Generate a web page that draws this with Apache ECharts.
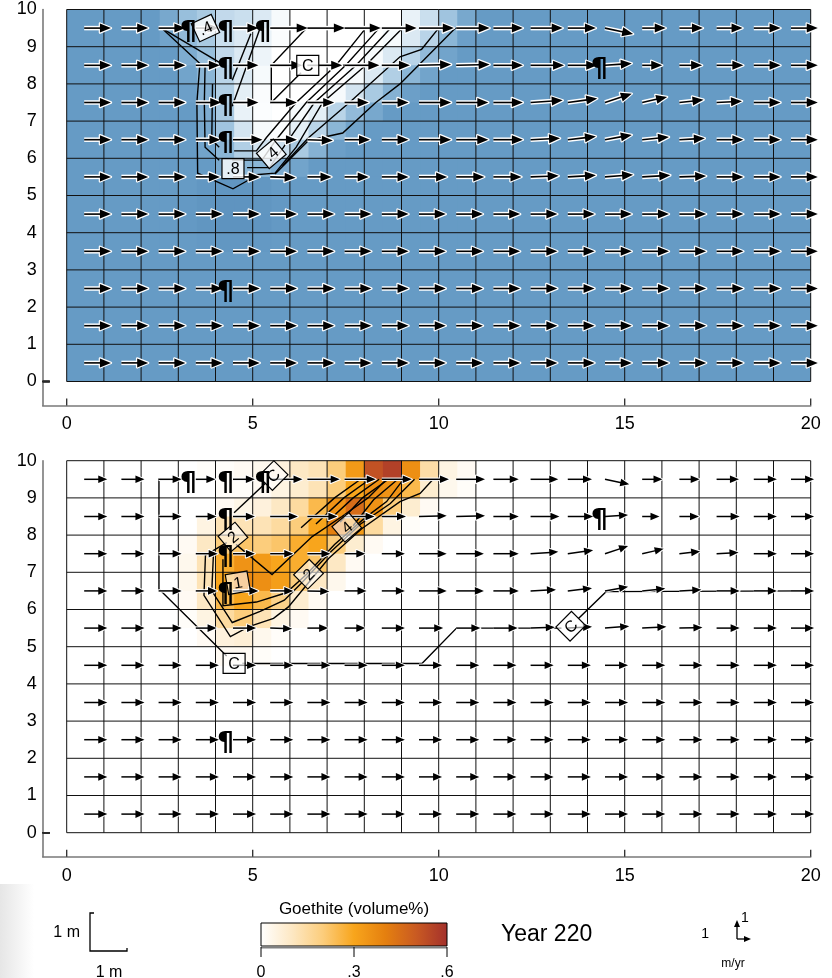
<!DOCTYPE html>
<html><head><meta charset="utf-8">
<script src="https://cdn.jsdelivr.net/npm/echarts@6/dist/echarts.min.js"></script>
<style>html,body{margin:0;padding:0;background:#fff}#c{width:832px;height:978px}</style>
</head><body><div id="c"></div>
<script>
// ---------------- DATA ----------------
const xTicks = [0, 5, 10, 15, 20];
const yTicks = [0, 1, 2, 3, 4, 5, 6, 7, 8, 9, 10];
const gridXs = [0,1,2,3,4,5,6,7,8,9,10,11,12,13,14,15,16,17,18,19,20];
const gridYs = [0,1,2,3,4,5,6,7,8,9,10];

// velocity arrows: tail positions and components (m/yr-like units)
const arrowX = [0.47,1.47,2.47,3.47,4.47,5.47,6.47,7.47,8.47,9.47,10.47,11.47,12.47,13.47,14.47,15.47,16.47,17.47,18.47,19.47];
const arrowY = [9.5, 8.5, 7.5, 6.5, 5.5, 4.5, 3.5, 2.5, 1.5, 0.5];
const flowU = [
 [1,1,1,0.85,0.95,1.4,1.4,1.35,1.3,1.3,1.25,1.1,1.2,1.05,1.05,0.88,0.88,0.97,1,1],
 [1,1,1,0.9,0.95,1.2,1.3,1.3,1.05,1.2,1.25,1.1,1.25,1.1,1.0,0.75,0.85,1,1,1],
 [1,1,1,0.95,0.95,1.0,1.0,0.9,1.0,1.2,1.2,1.1,1.2,1.1,1.0,0.93,0.9,0.95,1,1],
 [1,1,1,0.92,1.1,1.0,0.95,0.95,1.0,1.2,1.2,1.1,1.1,1.05,1.0,1.0,0.95,1,1,1],
 [1,1,1,0.9,1.0,0.95,0.9,0.9,1.0,1.05,1.05,1.05,1.05,1.05,1.05,1.05,1.0,1,1,1],
 [1,1,1,1,1,1,1,1,1,1,1,1,1,1,1,1,1,1,1,1],
 [1,1,1,1,1,1,1,1,1,1,1,1,1,1,1,1,1,1,1,1],
 [1,1,1,1,1,1,1,1,1,1,1,1,1,1,1,1,1,1,1,1],
 [1,1,1,1,1,1,1,1,1,1,1,1,1,1,1,1,1,1,1,1],
 [1,1,1,1,1,1,1,1,1,1,1,1,1,1,1,1,1,1,1,1]
];
const flowV = [
 [0,0,0,0,0,0,0,0,0,0,0,0,0,0,-0.22,0,0,0,0,0],
 [0,0,0,0,0,0,0,0,0,0.03,0.03,0,0,0,0.07,0,0,0,0,0],
 [0,0,0,0,0,0,0,0,0,0,0,0,0.08,0.15,0.33,0.21,0.1,0.05,0,0],
 [0,0,0,0,0,0,-0.03,0,0,0,0,0,0.05,0.12,0.18,0.1,0.05,0,0,0],
 [0,0,0,0,0,-0.03,0,0,0,0,0,0,0.04,0.06,0.08,0.06,0.03,0,0,0],
 [0,0,0,0,0,0,0,0,0,0,0,0,0,0,0,0,0,0,0,0],
 [0,0,0,0,0,0,0,0,0,0,0,0,0,0,0,0,0,0,0,0],
 [0,0,0,0,0,0,0,0,0,0,0,0,0,0,0,0,0,0,0,0],
 [0,0,0,0,0,0,0,0,0,0,0,0,0,0,0,0,0,0,0,0],
 [0,0,0,0,0,0,0,0,0,0,0,0,0,0,0,0,0,0,0,0]
];

// well markers
const wells = [[3.2,9.5],[4.2,9.5],[5.2,9.5],[4.2,8.5],[4.2,7.5],[4.2,6.5],[4.2,2.5],[14.25,8.5]];

// upper panel shading (0 = white, 1 = background blue)
const topShadeX = [2.25,2.75,3.25,3.75,4.25,4.75,5.25,5.75,6.25,6.75,7.25,7.75,8.25,8.75,9.25,9.75,10.25,10.75];
const topShadeY = [9.75,9.25,8.75,8.25,7.75,7.25,6.75,6.25,5.75,5.25,4.75,4.25,3.75];
const topShade = [
 [1.0,0.85,0.6,0.5,0.35,0.3,0.2,0.05,0,0,0,0,0,0,0.12,0.3,0.55,0.85],
 [1.0,0.9,0.65,0.5,0.3,0.2,0.12,0.03,0,0,0,0,0,0.05,0.2,0.4,0.7,0.95],
 [1.0,1.0,0.8,0.6,0.35,0.2,0.1,0,0,0,0,0,0.05,0.2,0.4,0.65,0.9,1.0],
 [1.0,1.0,0.9,0.7,0.4,0.2,0.05,0,0,0,0,0.05,0.2,0.45,0.7,0.9,1.0,1.0],
 [1.0,1.0,0.95,0.75,0.45,0.15,0.03,0,0,0,0.05,0.25,0.5,0.75,0.95,1.0,1.0,1.0],
 [1.0,1.0,1.0,0.8,0.5,0.12,0.02,0,0.05,0.15,0.4,0.65,0.85,1.0,1.0,1.0,1.0,1.0],
 [1.0,1.0,1.0,0.85,0.55,0.25,0.05,0.02,0.15,0.4,0.7,0.9,1.0,1.0,1.0,1.0,1.0,1.0],
 [1.0,1.0,1.0,0.9,0.7,0.45,0.25,0.3,0.5,0.75,0.95,1.0,1.0,1.0,1.0,1.0,1.0,1.0],
 [1.0,1.0,1.0,1.0,0.85,0.7,0.7,0.8,0.9,1.0,1.0,1.0,1.0,1.0,1.0,1.0,1.0,1.0],
 [1.0,1.0,1.0,1.04,1.05,1.05,1.04,1.0,1.0,1.0,1.0,1.0,1.0,1.0,1.0,1.0,1.0,1.0],
 [1.0,1.0,1.02,1.05,1.07,1.07,1.05,1.02,1.0,1.0,1.0,1.0,1.0,1.0,1.0,1.0,1.0,1.0],
 [1.0,1.0,1.02,1.05,1.08,1.08,1.06,1.02,1.0,1.0,1.0,1.0,1.0,1.0,1.0,1.0,1.0,1.0],
 [1.0,1.0,1.0,1.02,1.04,1.04,1.02,1.0,1.0,1.0,1.0,1.0,1.0,1.0,1.0,1.0,1.0,1.0]
];

// lower panel goethite (volume %)
const goeX = [3.25,3.75,4.25,4.75,5.25,5.75,6.25,6.75,7.25,7.75,8.25,8.75,9.25,9.75,10.25,10.75];
const goeY = [9.75,9.25,8.75,8.25,7.75,7.25,6.75,6.25,5.75,5.25,4.75];
const goethite = [
 [0,0.01,0.01,0.02,0.03,0.06,0.1,0.12,0.2,0.33,0.52,0.56,0.36,0.14,0.05,0.02],
 [0,0,0.01,0.01,0.02,0.05,0.08,0.12,0.2,0.3,0.36,0.35,0.25,0.08,0.03,0.01],
 [0,0,0.02,0.04,0.06,0.1,0.15,0.25,0.35,0.45,0.35,0.2,0.08,0.02,0,0],
 [0,0.05,0.12,0.12,0.12,0.15,0.2,0.3,0.4,0.33,0.15,0.05,0.01,0,0,0],
 [0.02,0.1,0.2,0.22,0.2,0.22,0.28,0.3,0.2,0.08,0.02,0,0,0,0,0],
 [0.03,0.12,0.28,0.35,0.33,0.3,0.28,0.22,0.1,0.02,0,0,0,0,0,0],
 [0.03,0.12,0.3,0.38,0.36,0.32,0.2,0.1,0.03,0,0,0,0,0,0,0],
 [0.02,0.1,0.25,0.3,0.25,0.18,0.08,0.02,0,0,0,0,0,0,0,0],
 [0.01,0.05,0.15,0.2,0.12,0.05,0.02,0,0,0,0,0,0,0,0,0],
 [0,0.02,0.06,0.07,0.03,0.01,0,0,0,0,0,0,0,0,0,0],
 [0,0,0.02,0.02,0.01,0,0,0,0,0,0,0,0,0,0,0]
];

// contour polylines, upper panel
const contoursTop = [
 [[2.55,9.5],[3.58,8.55],[3.5,7.5],[3.52,5.6],[4.47,5.18],[4.95,5.45]],
 [[2.55,9.5],[4.15,8.55]],
 [[3.72,8.5],[3.7,7.5],[3.72,6.3],[4.1,5.95]],
 [[3.92,8.0],[3.9,6.5],[4.1,6.3]],
 [[4.5,6.2],[5.1,6.2],[5.37,6.56],[6.17,7.5],[7.24,8.5],[8.04,9.5]],
 [[4.45,5.95],[5.25,5.95],[5.63,6.5],[6.44,7.5],[7.5,8.5],[8.4,9.5]],
 [[4.85,5.75],[5.45,5.75],[5.9,6.4],[6.66,7.5],[7.78,8.5],[8.71,9.5]],
 [[5.0,5.55],[5.6,5.6],[6.17,6.3],[6.88,7.5],[8.04,8.5],[9.03,9.5]],
 [[5.8,5.8],[6.5,6.55],[7.6,7.5],[8.96,8.73],[9.54,8.93],[10.0,9.5]],
 [[5.6,5.58],[6.5,6.48],[7.42,6.68],[8.31,7.5],[8.96,8.0],[10.45,9.5]],
 [[4.45,7.4],[5.2,9.5]],
 [[4.45,8.1],[4.95,9.35]],
 [[6.45,9.5],[5.5,8.5],[5.5,7.5],[6.3,8.3]],
 [[6.75,8.5],[7.6,8.5]]
];
const labelsTop = [[3.73,9.5,25],[6.48,8.5,0],[5.5,6.12,40],[4.47,5.72,0]];
const labelTextTop = ['.4', 'C', '.4', '.8'];

// contour polylines, lower panel
const contoursBot = [
 [[3.2,9.5],[2.48,9.5],[2.48,6.55],[4.3,4.75]],
 [[4.72,4.55],[9.55,4.55],[10.48,5.5],[13.3,5.5]],
 [[13.75,5.75],[14.5,6.48],[20,6.5]],
 [[4.5,8.6],[5.35,9.4]],
 [[4.3,7.8],[3.73,7.46],[3.69,6.38],[4.4,5.27],[4.9,5.54],[5.56,5.76],[5.96,6.07],[6.41,6.61],[7.04,7.37],[7.93,8.17],[8.96,8.9],[9.5,9.12],[9.85,9.5]],
 [[3.95,7.6],[3.9,6.5],[4.45,5.65],[5.2,5.95],[5.85,6.25],[6.3,6.7],[7.1,7.55],[7.9,8.3],[8.7,8.85],[9.35,9.5]],
 [[4.2,7.35],[4.2,6.1],[5.1,6.2],[5.9,6.45],[6.45,6.95],[7.2,7.75],[8.0,8.45],[8.6,8.9],[9.05,9.5]],
 [[4.55,7.75],[5.52,6.94],[6.6,7.96],[7.4,8.5],[8.1,9.0],[8.6,9.5]],
 [[6.3,8.2],[7.2,9.0],[7.9,9.5]],
 [[6.7,8.3],[7.45,9.0],[8.15,9.5]],
 [[7.0,8.35],[7.7,9.0],[8.4,9.5]],
 [[7.35,8.35],[7.95,9.0],[8.65,9.5]],
 [[7.7,8.25],[8.25,8.95],[8.9,9.5]]
];
const labelsBot = [[5.55,9.6,45],[4.47,7.95,40],[4.6,6.72,10],[6.5,6.95,45],[7.53,8.21,40],[4.5,4.55,0],[13.55,5.55,45]];
const labelTextBot = ['C', '2', '1', '2', '4', 'C', 'C'];

// colour bar
const cbarTicks = [0, 0.3, 0.6];
const cbarTickText = ['0', '.3', '.6'];

// ---------------- LAYOUT ----------------
const U = 37.2, PX0 = 66.7, PW = 20 * U, PH = 10 * U, AX = 24;
const TOP1 = 9.5, TOP2 = 460.7;
const FONT = "'Liberation Sans',Arial,sans-serif";
const BLUE = '#669bc5';
const AMIN = -AX / U;

function build3(xs, ys, rows) {
  const out = [];
  rows.forEach((r, i) => r.forEach((v, j) => out.push([xs[j], ys[i], v])));
  return out;
}
function buildArrows() {
  const out = [];
  arrowY.forEach((y, i) => arrowX.forEach((x, j) => out.push([x, y, flowU[i][j], flowV[i][j]])));
  return out;
}
const cell = 0.5;
function heatRender(params, api) {
  const x = api.value(0), y = api.value(1);
  const a = api.coord([x - cell / 2, y + cell / 2]);
  const b = api.coord([x + cell / 2, y - cell / 2]);
  const c = api.visual('color');
  return { type: 'rect', shape: { x: a[0], y: a[1], width: b[0] - a[0] + 0.6, height: b[1] - a[1] + 0.6 },
    style: { fill: c } };
}
function gridRender(params, api) {
  const o = api.value(0), v = api.value(1);
  let p, q;
  if (o === 0) { p = api.coord([v, 0]); q = api.coord([v, 10]); }
  else { p = api.coord([0, v]); q = api.coord([20, v]); }
  return { type: 'line', shape: { x1: p[0], y1: p[1], x2: q[0], y2: q[1] },
    style: { stroke: '#111', lineWidth: 1 } };
}
const gridData = gridXs.map(v => [0, v]).concat(gridYs.map(v => [1, v]));

// inward axis ticks, drawn on the plot grid and shifted out to the offset axis line
function tickRender(params, api) {
  const o = api.value(0), v = api.value(1);
  if (o === 0) {
    const p = api.coord([v, 0]);
    const y0 = p[1] + AX;
    return { type: 'line', shape: { x1: p[0], y1: y0, x2: p[0], y2: y0 - 7 }, style: { stroke: '#2a2a2a', lineWidth: 1.3 } };
  }
  const p = api.coord([0, v]);
  const x0 = p[0] - AX;
  return { type: 'line', shape: { x1: x0, y1: p[1], x2: x0 + 7, y2: p[1] }, style: { stroke: '#2a2a2a', lineWidth: 1.3 } };
}
const tickData = xTicks.map(v => [0, v, 0]).concat(yTicks.map(v => [1, 0, v]));

function arrowRender(scale, st) {
  return function (params, api) {
    const x = api.value(0), y = api.value(1), u = api.value(2), v = api.value(3);
    const p0 = api.coord([x, y]);
    const p1 = api.coord([x + u * scale, y + v * scale]);
    const dx = p1[0] - p0[0], dy = p1[1] - p0[1];
    const L = Math.hypot(dx, dy) || 1;
    const ux = dx / L, uy = dy / L;
    const bx = p1[0] - ux * st.hl, by = p1[1] - uy * st.hl;
    const le = [bx - uy * st.hw, by + ux * st.hw], ri = [bx + uy * st.hw, by - ux * st.hw];
    return { type: 'group', children: [
      { type: 'line', shape: { x1: p0[0], y1: p0[1], x2: bx, y2: by }, style: { stroke: '#fff', lineWidth: st.halo, lineCap: 'butt' } },
      { type: 'polygon', shape: { points: [p1, le, ri] }, style: { fill: '#fff', stroke: '#fff', lineWidth: st.headHalo, lineJoin: 'round' } },
      { type: 'line', shape: { x1: p0[0], y1: p0[1], x2: bx + ux, y2: by + uy }, style: { stroke: '#000', lineWidth: st.w } },
      { type: 'polygon', shape: { points: [p1, le, ri] }, style: { fill: '#000' } }
    ] };
  };
}
function labelRender(texts, fill) {
  return function (params, api) {
    const p = api.coord([api.value(0), api.value(1)]);
    const rot = api.value(2) * Math.PI / 180;
    const t = texts[params.dataIndex];
    return { type: 'group', x: p[0], y: p[1], rotation: rot, children: [
      { type: 'rect', shape: { x: -11, y: -10, width: 22, height: 20 }, style: { fill: fill, stroke: '#000', lineWidth: 1.2 } },
      { type: 'text', style: { text: t, x: 0, y: 1, align: 'center', verticalAlign: 'middle', font: '16px ' + FONT, fill: '#000' } }
    ] };
  };
}
function wellRender(params, api) {
  const p = api.coord([api.value(0), api.value(1)]);
  return { type: 'text', style: { text: '\u00B6', x: p[0] - 6, y: p[1] - 9, align: 'left', verticalAlign: 'top',
    font: 'bold 27px DejaVu Sans', fill: '#000' } };
}

const lineCol = { color: '#7a7a7a', width: 1.6 };
function plotAxes(gi) {
  return {
    x: { gridIndex: gi, type: 'value', min: 0, max: 20, interval: 5, position: 'bottom', offset: AX,
      axisLine: { show: false, onZero: false }, axisTick: { show: false },
      axisLabel: { show: true, fontSize: 18, color: '#000', margin: 10, fontFamily: 'Liberation Sans' },
      splitLine: { show: false } },
    y: { gridIndex: gi, type: 'value', min: 0, max: 10, interval: 1, position: 'left', offset: AX,
      axisLine: { show: false, onZero: false }, axisTick: { show: false },
      axisLabel: { show: true, fontSize: 18, color: '#000', margin: 6, fontFamily: 'Liberation Sans' },
      splitLine: { show: false } }
  };
}
function frameAxes(gi) {
  return {
    x: { gridIndex: gi, type: 'value', min: AMIN, max: 20, position: 'bottom',
      axisLine: { show: true, onZero: false, lineStyle: lineCol }, axisTick: { show: false }, axisLabel: { show: false }, splitLine: { show: false } },
    y: { gridIndex: gi, type: 'value', min: AMIN, max: 10, position: 'left',
      axisLine: { show: true, onZero: false, lineStyle: lineCol }, axisTick: { show: false }, axisLabel: { show: false }, splitLine: { show: false } }
  };
}
const a0 = plotAxes(0), a1 = plotAxes(1), a2 = frameAxes(2), a3 = frameAxes(3);

const series = [
  { type: 'custom', name: 'shadeTop', xAxisIndex: 0, yAxisIndex: 0, renderItem: heatRender,
    dimensions: ['x', 'y', 'v'], encode: { x: 0, y: 1 }, data: build3(topShadeX, topShadeY, topShade), z: 1, silent: true },
  { type: 'custom', name: 'goethite', xAxisIndex: 1, yAxisIndex: 1, renderItem: heatRender,
    dimensions: ['x', 'y', 'v'], encode: { x: 0, y: 1 }, data: build3(goeX, goeY, goethite), z: 1, silent: true },
  { type: 'custom', xAxisIndex: 0, yAxisIndex: 0, renderItem: gridRender, data: gridData, encode: { x: 1, y: 1 }, z: 2, silent: true },
  { type: 'custom', xAxisIndex: 1, yAxisIndex: 1, renderItem: gridRender, data: gridData, encode: { x: 1, y: 1 }, z: 2, silent: true },
  { type: 'lines', coordinateSystem: 'cartesian2d', xAxisIndex: 0, yAxisIndex: 0, polyline: true,
    data: contoursTop.map(c => ({ coords: c })), lineStyle: { color: '#000', width: 1.4, opacity: 1 }, z: 3, silent: true },
  { type: 'lines', coordinateSystem: 'cartesian2d', xAxisIndex: 1, yAxisIndex: 1, polyline: true,
    data: contoursBot.map(c => ({ coords: c })), lineStyle: { color: '#000', width: 1.4, opacity: 1 }, z: 3, silent: true },
  { type: 'custom', xAxisIndex: 0, yAxisIndex: 0, renderItem: arrowRender(0.72, { hl: 11, hw: 4.5, w: 1.6, halo: 4.5, headHalo: 2.5 }),
    dimensions: ['x', 'y', 'u', 'v'], encode: { x: 0, y: 1 }, data: buildArrows(), z: 4, silent: true },
  { type: 'custom', xAxisIndex: 1, yAxisIndex: 1, renderItem: arrowRender(0.62, { hl: 9, hw: 3.8, w: 1.5, halo: 3.5, headHalo: 2 }),
    dimensions: ['x', 'y', 'u', 'v'], encode: { x: 0, y: 1 }, data: buildArrows(), z: 4, silent: true },
  { type: 'custom', xAxisIndex: 0, yAxisIndex: 0, renderItem: labelRender(labelTextTop, 'rgba(255,255,255,0.8)'),
    dimensions: ['x', 'y', 'r'], encode: { x: 0, y: 1 }, data: labelsTop, z: 5, silent: true },
  { type: 'custom', xAxisIndex: 1, yAxisIndex: 1, renderItem: labelRender(labelTextBot, 'rgba(255,255,255,0.6)'),
    dimensions: ['x', 'y', 'r'], encode: { x: 0, y: 1 }, data: labelsBot, z: 5, silent: true },
  { type: 'custom', xAxisIndex: 0, yAxisIndex: 0, renderItem: wellRender, encode: { x: 0, y: 1 }, data: wells, z: 6, silent: true },
  { type: 'custom', xAxisIndex: 1, yAxisIndex: 1, renderItem: wellRender, encode: { x: 0, y: 1 }, data: wells, z: 6, silent: true },
  { type: 'custom', xAxisIndex: 0, yAxisIndex: 0, renderItem: tickRender, data: tickData, encode: { x: 1, y: 2 }, z: 7, silent: true, clip: false },
  { type: 'custom', xAxisIndex: 1, yAxisIndex: 1, renderItem: tickRender, data: tickData, encode: { x: 1, y: 2 }, z: 7, silent: true, clip: false }
];

const goeColors = ['#ffffff', '#fde8c4', '#fccd7c', '#f8a51c', '#e5800f', '#c95a22', '#a3302c'];
const blueColors = ['#ffffff', '#dbe9f3', '#b9d4e8', '#98bfdc', '#7eacd0', BLUE, '#5288b6'];

// legend graphics
const cbX0 = 261, cbX1 = 447, cbY = 923, cbH = 23;
const graphic = [
  { type: 'rect', shape: { x: 0, y: 884, width: 34, height: 94 }, z: -1,
    style: { fill: new echarts.graphic.LinearGradient(0, 0, 1, 0, [{ offset: 0, color: '#e6e6e6' }, { offset: 1, color: '#ffffff' }]) } },
  { type: 'polyline', shape: { points: [[94, 913], [90, 913], [90, 951], [127, 951], [127, 948]] }, style: { stroke: '#000', lineWidth: 1.3, fill: null } },
  { type: 'text', style: { text: '1 m', x: 80, y: 933, align: 'right', verticalAlign: 'middle', font: '16px ' + FONT, fill: '#000' } },
  { type: 'text', style: { text: '1 m', x: 109, y: 973, align: 'center', verticalAlign: 'middle', font: '16px ' + FONT, fill: '#000' } },
  { type: 'text', style: { text: 'Goethite (volume%)', x: (cbX0 + cbX1) / 2, y: 909, align: 'center', verticalAlign: 'middle', font: '17px ' + FONT, fill: '#000' } },
  { type: 'rect', shape: { x: cbX0, y: cbY, width: cbX1 - cbX0, height: cbH },
    style: { stroke: '#000', lineWidth: 1, fill: new echarts.graphic.LinearGradient(0, 0, 1, 0,
      goeColors.map((c, i) => ({ offset: i / (goeColors.length - 1), color: c }))) } },
  { type: 'line', shape: { x1: cbX0, y1: cbY + cbH + 1.5, x2: cbX1, y2: cbY + cbH + 1.5 }, style: { stroke: '#808080', lineWidth: 2 } }
];
cbarTicks.forEach((t, i) => {
  const x = cbX0 + (cbX1 - cbX0) * t / 0.6;
  graphic.push({ type: 'line', shape: { x1: x, y1: cbY + cbH + 1, x2: x, y2: cbY + cbH + 11 }, style: { stroke: '#000', lineWidth: 1 } });
  graphic.push({ type: 'text', style: { text: cbarTickText[i], x: x, y: 973, align: 'center', verticalAlign: 'middle', font: '16px ' + FONT, fill: '#000' } });
});
graphic.push(
  { type: 'text', style: { text: 'Year 220', x: 501, y: 935, align: 'left', verticalAlign: 'middle', font: '23px ' + FONT, fill: '#000' } },
  { type: 'text', style: { text: '1', x: 709, y: 934, align: 'right', verticalAlign: 'middle', font: '14px ' + FONT, fill: '#000' } },
  { type: 'text', style: { text: '1', x: 741, y: 918, align: 'left', verticalAlign: 'middle', font: '14px ' + FONT, fill: '#000' } },
  { type: 'line', shape: { x1: 737, y1: 939, x2: 737, y2: 926 }, style: { stroke: '#000', lineWidth: 1.3 } },
  { type: 'polygon', shape: { points: [[737, 920], [734, 927], [740, 927]] }, style: { fill: '#000' } },
  { type: 'line', shape: { x1: 737, y1: 939, x2: 745, y2: 939 }, style: { stroke: '#000', lineWidth: 1.3 } },
  { type: 'polygon', shape: { points: [[751, 939], [744, 936], [744, 942]] }, style: { fill: '#000' } },
  { type: 'text', style: { text: 'm/yr', x: 733, y: 964, align: 'center', verticalAlign: 'middle', font: '12px ' + FONT, fill: '#000' } }
);

const option = {
  animation: false,
  backgroundColor: '#fff',
  grid: [
    { left: PX0, top: TOP1, width: PW, height: PH, show: true, backgroundColor: BLUE, borderWidth: 0 },
    { left: PX0, top: TOP2, width: PW, height: PH, show: true, backgroundColor: '#ffffff', borderWidth: 0 },
    { left: PX0 - AX, top: TOP1, width: PW + AX, height: PH + AX, show: false },
    { left: PX0 - AX, top: TOP2, width: PW + AX, height: PH + AX, show: false }
  ],
  xAxis: [a0.x, a1.x, a2.x, a3.x],
  yAxis: [a0.y, a1.y, a2.y, a3.y],
  visualMap: [
    { type: 'continuous', show: false, seriesIndex: 0, dimension: 2, min: 0, max: 1.2,
      inRange: { color: blueColors } },
    { type: 'continuous', show: false, seriesIndex: 1, dimension: 2, min: 0, max: 0.6,
      inRange: { color: goeColors } }
  ],
  series: series,
  graphic: graphic
};
const chart = echarts.init(document.getElementById('c'), null, { renderer: 'canvas', width: 832, height: 978 });
chart.setOption(option);
</script>
</body></html>
